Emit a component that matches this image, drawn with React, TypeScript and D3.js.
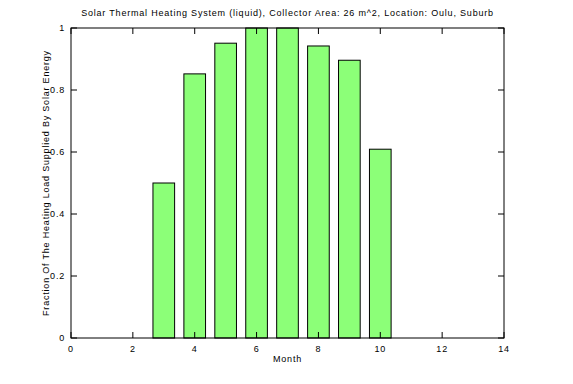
import React from "react";
import * as d3 from "d3";

const months = [1, 2, 3, 4, 5, 6, 7, 8, 9, 10, 11, 12];
const fraction = [0, 0, 0.5, 0.852, 0.951, 1, 1, 0.942, 0.896, 0.609, 0, 0];
const xTicks = [0, 2, 4, 6, 8, 10, 12, 14];
const yTicks = [0, 0.2, 0.4, 0.6, 0.8, 1];
const yTickLabels = ["0", "0.2", "0.4", "0.6", "0.8", "1"];
const title = "Solar Thermal Heating System (liquid), Collector Area: 26 m^2, Location: Oulu, Suburb";

export default function App() {
  const W = 573, H = 384;
  const left = 71, right = 504, top = 28, bottom = 338;
  const x = d3.scaleLinear().domain([0, 14]).range([left, right]);
  const y = d3.scaleLinear().domain([0, 1]).range([bottom, top]);
  const bw = x(0.7) - x(0);
  const tl = 6;
  const font = "Liberation Sans, Arial, sans-serif";
  return (
    <svg width={W} height={H} style={{ position: "absolute", left: 0, top: 0, background: "#fff" }}>
      <g fontFamily={font} fontSize={9} fill="#000" letterSpacing={0.8}>
        {months.map((m, i) =>
          fraction[i] > 0 ? (
            <rect key={m} x={x(m) - bw / 2} y={y(fraction[i])} width={bw} height={y(0) - y(fraction[i])}
              fill="#8cff78" stroke="#000" strokeWidth={1} />
          ) : null
        )}
        <rect x={left} y={top} width={right - left} height={bottom - top} fill="none" stroke="#000" strokeWidth={1} />
        {xTicks.map((t) => (
          <g key={"x" + t}>
            <line x1={x(t)} x2={x(t)} y1={bottom} y2={bottom - tl} stroke="#000" />
            <line x1={x(t)} x2={x(t)} y1={top} y2={top + tl} stroke="#000" />
            <text x={x(t)} y={bottom + 14} textAnchor="middle">{t}</text>
          </g>
        ))}
        {yTicks.map((t, i) => (
          <g key={"y" + t}>
            <line x1={left} x2={left + tl} y1={y(t)} y2={y(t)} stroke="#000" />
            <line x1={right} x2={right - tl} y1={y(t)} y2={y(t)} stroke="#000" />
            <text x={left - 6} y={y(t) + 3} textAnchor="end">{yTickLabels[i]}</text>
          </g>
        ))}
        <text x={(left + right) / 2 + 0} y={16} textAnchor="middle">{title}</text>
        <text x={(left + right) / 2} y={362} textAnchor="middle">Month</text>
        <text transform={`translate(49,${(top + bottom) / 2}) rotate(-90)`} textAnchor="middle">
          Fraction Of The Heating Load Supplied By Solar Energy
        </text>
      </g>
    </svg>
  );
}
